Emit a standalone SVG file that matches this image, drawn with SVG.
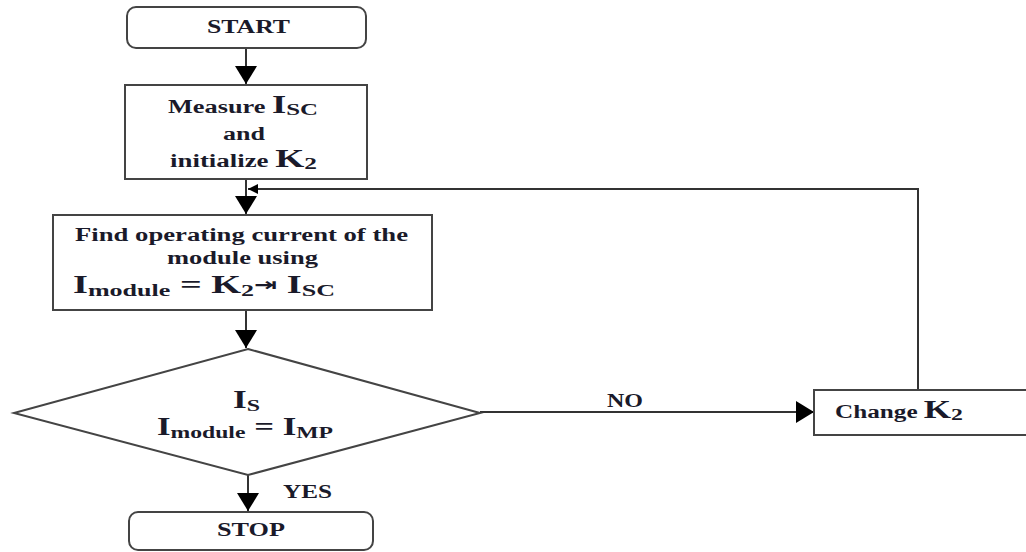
<svg xmlns="http://www.w3.org/2000/svg" width="1026" height="552" viewBox="0 0 1026 552">
<defs>
<style>
.box{fill:#fff;stroke:#444;stroke-width:2}
.ln{fill:none;stroke:#333;stroke-width:2}
text{font-family:"Liberation Serif","Times New Roman",serif;font-weight:bold;fill:#1a1a2a;font-size:18px}
.big{font-size:25px}
.sub{font-size:17px}
</style>
<marker id="ah" markerUnits="userSpaceOnUse" viewBox="0 0 18 22" markerWidth="18" markerHeight="22" refX="18" refY="11" orient="auto">
<path d="M0,0 L18,11 L0,22 z" fill="#000"/>
</marker>
<marker id="ahs" markerUnits="userSpaceOnUse" viewBox="0 0 10 10" markerWidth="10" markerHeight="10" refX="10" refY="5" orient="auto">
<path d="M0,0 L10,5 L0,10 z" fill="#000"/>
</marker>
</defs>
<rect width="1026" height="552" fill="#fff"/>

<g id="connectors">
<path class="ln" d="M246,48 V84" marker-end="url(#ah)"/>
<path class="ln" d="M246,179 V214" marker-end="url(#ah)"/>
<path class="ln" d="M918,390 V189 H248" marker-end="url(#ahs)"/>
<path class="ln" d="M246,310 V348" marker-end="url(#ah)"/>
<path class="ln" d="M480,412 H814" marker-end="url(#ah)"/>
<path class="ln" d="M248,475 V511" marker-end="url(#ah)"/>
<text x="607" y="407" textLength="36" lengthAdjust="spacingAndGlyphs">NO</text>
<text x="283" y="498" textLength="49" lengthAdjust="spacingAndGlyphs">YES</text>
</g>

<g id="start">
<rect class="box" x="127" y="7" width="239" height="41" rx="9"/>
<text x="207" y="33" textLength="83" lengthAdjust="spacingAndGlyphs">START</text>
</g>

<g id="measure">
<rect class="box" x="125" y="85" width="242" height="94"/>
<text x="168" y="113" textLength="150" lengthAdjust="spacingAndGlyphs">Measure <tspan class="big">I</tspan><tspan class="sub" dy="2">SC</tspan></text>
<text x="223" y="140" textLength="42" lengthAdjust="spacingAndGlyphs">and</text>
<text x="170" y="167" textLength="147" lengthAdjust="spacingAndGlyphs">initialize <tspan class="big">K</tspan><tspan class="sub" dy="2">2</tspan></text>
</g>

<g id="find">
<rect class="box" x="53" y="215" width="379" height="95"/>
<text x="75" y="241" textLength="333" lengthAdjust="spacingAndGlyphs">Find operating current of the</text>
<text x="167" y="264" textLength="151" lengthAdjust="spacingAndGlyphs">module using</text>
<text x="73" y="293" textLength="262" lengthAdjust="spacingAndGlyphs"><tspan class="big">I</tspan><tspan class="sub" dy="3">module</tspan><tspan class="big" dy="-3"> = K</tspan><tspan class="sub" dy="3">2</tspan><tspan dy="-5" font-family="DejaVu Sans" font-size="18">⇥</tspan><tspan class="big" dy="2"> I</tspan><tspan class="sub" dy="3">SC</tspan></text>
</g>

<g id="decision">
<polygon class="box" points="248,349 480,413 248,475 14,413"/>
<text x="233" y="408" textLength="27" lengthAdjust="spacingAndGlyphs"><tspan class="big">I</tspan><tspan class="sub" dy="3">S</tspan></text>
<text x="157" y="435" textLength="176" lengthAdjust="spacingAndGlyphs"><tspan class="big">I</tspan><tspan class="sub" dy="3">module</tspan><tspan class="big" dy="-3"> = I</tspan><tspan class="sub" dy="3">MP</tspan></text>
</g>

<g id="change">
<rect class="box" x="814" y="390" width="220" height="45"/>
<text x="835" y="418" textLength="128" lengthAdjust="spacingAndGlyphs">Change <tspan class="big">K</tspan><tspan class="sub" dy="2">2</tspan></text>
</g>

<g id="stop">
<rect class="box" x="129" y="512" width="244" height="38" rx="9"/>
<text x="217" y="536" textLength="68" lengthAdjust="spacingAndGlyphs">STOP</text>
</g>
</svg>
